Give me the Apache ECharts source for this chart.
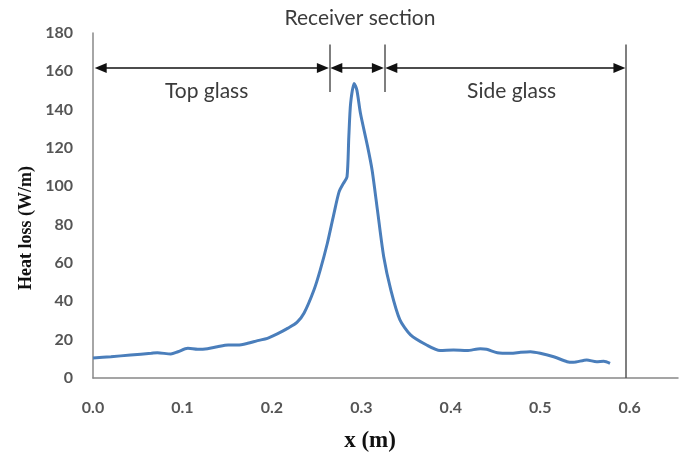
<!DOCTYPE html>
<html>
<head>
<meta charset="utf-8">
<script src="https://cdn.jsdelivr.net/npm/echarts@6/dist/echarts.min.js"></script>
<style>html,body{margin:0;padding:0;background:#fff}#c{width:686px;height:457px}</style>
</head>
<body>
<div id="c"></div>
<script>
// Data
const xPos = [0.000,0.020,0.042,0.065,0.072,0.087,0.095,0.106,0.117,0.128,0.139,0.151,0.162,0.173,0.184,0.195,0.206,0.218,0.228,0.236,0.247,0.254,0.262,0.269,0.275,0.280,0.284,0.286,0.288,0.292,0.295,0.299,0.307,0.312,0.318,0.325,0.333,0.343,0.355,0.373,0.388,0.403,0.418,0.433,0.440,0.452,0.467,0.478,0.489,0.500,0.515,0.530,0.537,0.552,0.563,0.571,0.578];
const heatLoss = [10.4,11.1,12.0,12.9,13.2,12.5,13.7,15.5,15.0,15.3,16.3,17.2,17.2,18.1,19.5,20.7,23.0,26.0,29.0,33.9,45.9,56.3,70.3,85.0,97.0,101.6,105.0,125.9,143.3,153.7,150.2,138.1,120.7,108.5,87.6,63.3,45.9,30.5,22.5,17.2,14.3,14.6,14.3,15.3,15.0,13.2,12.9,13.4,13.7,12.9,11.1,8.5,8.2,9.4,8.5,8.7,7.6];
const yTicks = [0,20,40,60,80,100,120,140,160,180];
const xTicks = [0.0,0.1,0.2,0.3,0.4,0.5,0.6];
// Section boundaries (m) and annotation level (W/m)
const sectionBounds = [0.0, 0.2645, 0.326, 0.596];
const arrowLevel = 161.7;
const sectionLabels = ['Top glass', 'Side glass'];
const sectionLabelPos = [[0.127, 149.7], [0.468, 149.7]];
const sepTop = 174, sepBottom = 149.2;
const arrowInset = 0.0075;

const chart = echarts.init(document.getElementById('c'), null, {renderer: 'canvas'});
const pts = xPos.map((x, i) => [x, heatLoss[i]]);

const arrowEnd = {symbol: 'triangle', symbolSize: [10, 12]};
const mlData = [];
for (let i = 0; i < 3; i++) {
  const a = sectionBounds[i] + (i === 0 ? arrowInset * 0.75 + 0.003 : arrowInset);
  const b = sectionBounds[i + 1] - arrowInset;
  mlData.push([
    Object.assign({coord: [a, arrowLevel]}, arrowEnd),
    Object.assign({coord: [b, arrowLevel]}, arrowEnd)
  ]);
}
const sepStyle = {color: '#555', width: 1.5};
mlData.push([{coord: [sectionBounds[1], sepTop], symbol: 'none', lineStyle: sepStyle},
             {coord: [sectionBounds[1], sepBottom], symbol: 'none'}]);
mlData.push([{coord: [sectionBounds[2], sepTop], symbol: 'none', lineStyle: sepStyle},
             {coord: [sectionBounds[2], sepBottom], symbol: 'none'}]);
mlData.push([{coord: [sectionBounds[3], sepTop], symbol: 'none', lineStyle: sepStyle},
             {coord: [sectionBounds[3], 0], symbol: 'none'}]);

const labelFont = {fontFamily: 'Lato', fontSize: 21, color: '#3b3b3b'};

chart.setOption({
  animation: false,
  backgroundColor: '#fff',
  grid: {left: 93, right: 8, top: 33, bottom: 79},
  graphic: [
    {type: 'text', x: 360, y: 18,
     style: {text: 'Receiver section', font: '21px Lato', fill: '#3b3b3b', align: 'center', verticalAlign: 'middle'}},
    {type: 'text', x: 26, y: 228, rotation: Math.PI / 2,
     style: {text: 'Heat loss (W/m)', font: 'bold 18px "Liberation Serif"', fill: '#111', align: 'center', verticalAlign: 'middle'}},
    {type: 'text', x: 370, y: 441,
     style: {text: 'x (m)', font: 'bold 23px "Liberation Serif"', fill: '#111', align: 'center', verticalAlign: 'middle'}}
  ],
  xAxis: {
    type: 'value', min: 0, max: 0.654, interval: 0.1,
    axisLine: {lineStyle: {color: '#888', width: 1.5}},
    axisTick: {show: false},
    splitLine: {show: false},
    axisLabel: {
      margin: 22, showMaxLabel: false,
      fontFamily: 'Lato', fontSize: 16, color: '#555', fontWeight: 'bold',
      formatter: v => { const r = Math.round(v * 10) / 10; return xTicks.some(t => Math.abs(t - r) < 1e-9) && Math.abs(v - r) < 1e-6 ? r.toFixed(1) : ''; }
    }
  },
  yAxis: {
    type: 'value', min: 0, max: 180, interval: 20,
    axisLine: {show: true, lineStyle: {color: '#888', width: 1.5}},
    axisTick: {show: false},
    splitLine: {show: false},
    axisLabel: {
      margin: 20, fontFamily: 'Lato', fontSize: 16, color: '#555', fontWeight: 'bold',
      formatter: v => yTicks.includes(v) ? String(v) : ''
    }
  },
  series: [{
    type: 'line',
    data: pts,
    smooth: 0.25,
    showSymbol: false,
    lineStyle: {color: '#4A7EBB', width: 3},
    markLine: {
      silent: true, symbol: ['none', 'none'],
      label: {show: false},
      lineStyle: {color: '#111', width: 1.5, type: 'solid'},
      data: mlData
    },
    markPoint: {
      silent: true, symbol: 'circle', symbolSize: 0,
      label: Object.assign({show: true, position: 'inside', formatter: p => p.name}, labelFont),
      data: sectionLabels.map((n, i) => ({name: n, coord: sectionLabelPos[i]}))
    }
  }]
});
</script>
</body>
</html>
